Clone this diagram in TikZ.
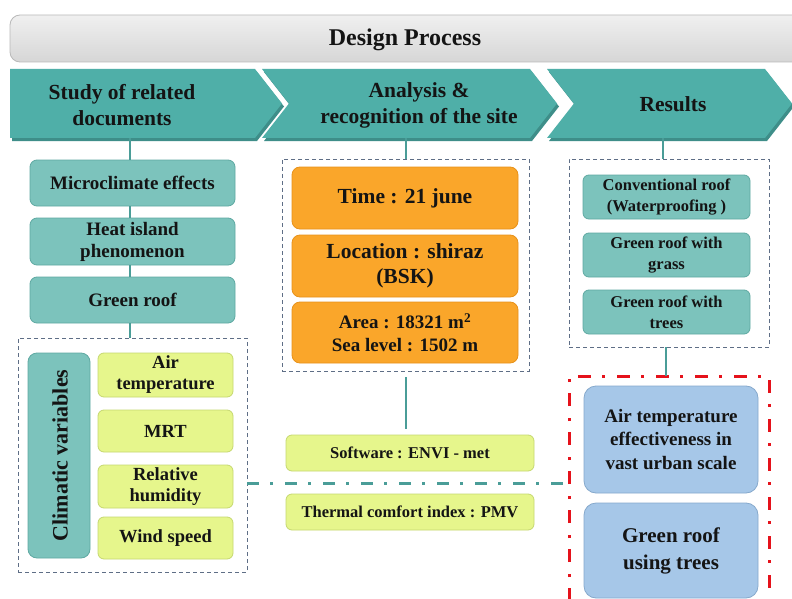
\documentclass[tikz,border=0pt]{standalone}
\usepackage{fontspec}
\setmainfont{Liberation Serif}
\definecolor{chev}{HTML}{4FAFA8}
\definecolor{chevd}{HTML}{3E8E89}
\definecolor{tealfill}{HTML}{7CC3BC}
\definecolor{tealdraw}{HTML}{5FA9A2}
\definecolor{conncol}{HTML}{4A9D98}
\definecolor{orangefill}{HTML}{FAA62A}
\definecolor{orangedraw}{HTML}{E8921A}
\definecolor{yellowfill}{HTML}{E6F68C}
\definecolor{yellowdraw}{HTML}{C6D870}
\definecolor{bluefill}{HTML}{A6C7E8}
\definecolor{bluedraw}{HTML}{86A9CC}
\definecolor{dashgray}{HTML}{5E6E86}
\definecolor{redline}{HTML}{E5121B}
\definecolor{txt}{HTML}{141414}
\begin{document}
\begin{tikzpicture}[x=1pt,y=-1pt,
  every node/.style={align=center,inner sep=0pt,text=txt},
  chevtext/.style={font=\bfseries\fontsize{21.5}{26}\selectfont},
  tealbox/.style={draw=tealdraw,fill=tealfill,line width=0.8pt,rounded corners=7pt,font=\bfseries\fontsize{19}{22}\selectfont},
  smallteal/.style={draw=tealdraw,fill=tealfill,line width=0.8pt,rounded corners=6pt,font=\bfseries\fontsize{16.5}{21}\selectfont,minimum width=167pt,minimum height=44pt},
  yelbox/.style={draw=yellowdraw,fill=yellowfill,line width=0.8pt,rounded corners=6pt,font=\bfseries\fontsize{18.5}{21}\selectfont,minimum width=135pt},
  widebox/.style={draw=yellowdraw,fill=yellowfill,line width=0.8pt,rounded corners=6pt,font=\bfseries\fontsize{16.5}{19}\selectfont,minimum width=248pt,minimum height=36pt},
  orbox/.style={draw=orangedraw,fill=orangefill,line width=0.8pt,rounded corners=8pt,minimum width=226pt},
  bluebox/.style={draw=bluedraw,fill=bluefill,line width=0.8pt,rounded corners=12pt,minimum width=174pt},
  grpbox/.style={draw=dashgray,line width=0.7pt,dash pattern=on 4pt off 3pt},
  conn/.style={draw=conncol,line width=2.5pt},
  dashdot/.style={draw=conncol,line width=3pt,dash pattern=on 12pt off 11pt on 3pt off 12pt},
  reddash/.style={draw=redline,line width=3pt,dash pattern=on 13pt off 11pt on 3pt off 12pt}
]
\useasboundingbox (0,0) rectangle (792,599);
\fill[white] (0,0) rectangle (792,599);

% title bar
\shade[top color=gray!12,bottom color=gray!32,draw=gray!55,line width=0.8pt,rounded corners=10pt]
  (10,15) rectangle (805,62);
\node[font=\bfseries\fontsize{24}{26}\selectfont] (title) at (405,40) {Design Process};

% chevrons
\fill[chevd] (12,72) -- (257,72) -- (284,106.5) -- (257,141) -- (12,141) -- cycle;
\fill[chev] (10,69) -- (255,69) -- (282,103.5) -- (255,138) -- (10,138) -- cycle;
\fill[chevd] (264,72) -- (532,72) -- (559,106.5) -- (532,141) -- (264,141) -- (291,106.5) -- cycle;
\fill[chev] (262,69) -- (530,69) -- (557,103.5) -- (530,138) -- (262,138) -- (289,103.5) -- cycle;
\fill[chevd] (549,72) -- (767,72) -- (794,106.5) -- (767,141) -- (549,141) -- (576,106.5) -- cycle;
\fill[chev] (547,69) -- (765,69) -- (792,103.5) -- (765,138) -- (547,138) -- (574,103.5) -- cycle;
\node[chevtext] (ch1) at (122,105) {Study of related\\documents};
\node[chevtext] (ch2) at (419,105) {Analysis \&\\recognition of the site};
\node[chevtext] (ch3) at (673,104) {Results};
\coordinate (b1) at (130,138);
\coordinate (b2) at (406,138);
\coordinate (b3) at (663,138);

% left column
\node[tealbox,minimum width=205pt,minimum height=46pt] (micro) at (132.5,183) {Microclimate effects};
\node[tealbox,minimum width=205pt,minimum height=47pt] (heat) at (132.5,241.5) {Heat island\\phenomenon};
\node[tealbox,minimum width=205pt,minimum height=46pt] (groof) at (132.5,300) {Green roof};
\node[grpbox,minimum width=229pt,minimum height=234pt] (lgrp) at (132.5,455) {};
\node[tealbox,minimum width=62pt,minimum height=205pt,rounded corners=9pt] (clim) at (59,455.5) {};
\node[font=\bfseries\fontsize{22}{24}\selectfont,rotate=90] (climt) at (60,455.5) {Climatic variables};
\node[yelbox,minimum height=44pt] (airt) at (165.5,375) {Air\\temperature};
\node[yelbox,minimum height=42pt] (mrt) at (165.5,431) {MRT};
\node[yelbox,minimum height=43pt] (relh) at (165.5,486.5) {Relative\\humidity};
\node[yelbox,minimum height=42pt] (wind) at (165.5,538) {Wind speed};
\draw[conn] (b1) -- (b1 |- micro.north);
\draw[conn] (micro.south -| b1) -- (heat.north -| b1);
\draw[conn] (heat.south -| b1) -- (groof.north -| b1);
\draw[conn] (groof.south -| b1) -- (lgrp.north -| b1);

% middle column
\node[grpbox,minimum width=247pt,minimum height=212pt] (mgrp) at (405.5,265) {};
\node[orbox,minimum height=62pt,font=\bfseries\fontsize{21.5}{24}\selectfont] (time) at (405,198) {Time : 21 june};
\node[orbox,minimum height=62pt,font=\bfseries\fontsize{21.5}{25}\selectfont] (loc) at (405,266) {Location : shiraz\\(BSK)};
\node[orbox,minimum height=61pt,font=\bfseries\fontsize{19}{23}\selectfont] (area) at (405,332.5) {Area : 18321 m\textsuperscript{2}\\Sea level : 1502 m};
\node[widebox] (soft) at (410,453) {Software : ENVI - met};
\node[widebox] (therm) at (410,512) {Thermal comfort index : PMV};
\draw[conn] (b2) -- (b2 |- mgrp.north);
\coordinate (m1) at (406,377);
\coordinate (m2) at (406,429);
\draw[conn] (m1) -- (m2);

% right column
\node[grpbox,minimum width=200pt,minimum height=188pt] (rgrp) at (669,253) {};
\node[smallteal] (conv) at (666.5,197) {Conventional roof\\(Waterproofing )};
\node[smallteal] (grass) at (666.5,255) {Green roof with\\grass};
\node[smallteal] (trees) at (666.5,312) {Green roof with\\trees};
\draw[conn] (b3) -- (b3 |- rgrp.north);
\coordinate (redtl) at (569,376);
\coordinate (redbr) at (769,640);
\draw[reddash] (569,640) -- (redtl) -- (769,376) -- (redbr);
\node[bluebox,minimum height=107pt,font=\bfseries\fontsize{19}{23.5}\selectfont] (airx) at (671,439.5) {Air temperature\\effectiveness in\\vast urban scale};
\node[bluebox,minimum height=95pt,font=\bfseries\fontsize{21}{27}\selectfont] (gtree) at (671,550.5) {Green roof\\using trees};
\coordinate (rtop) at (666,376);
\draw[conn] (rgrp.south -| rtop) -- (rtop);

% dash-dot link
\coordinate (redl) at (569,483);
\draw[dashdot] (lgrp.east |- redl) -- (redl);
\end{tikzpicture}
\end{document}
